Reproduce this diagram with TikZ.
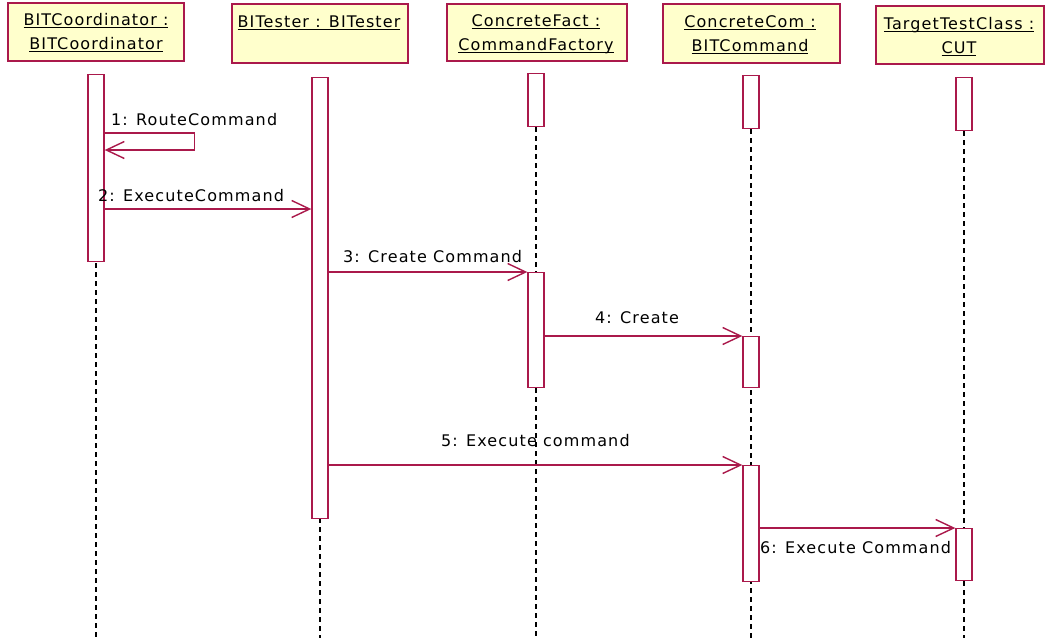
\documentclass[tikz,border=0pt]{standalone}
\usepackage{fontspec}
\newfontfamily\umlfont{DejaVu Sans}[LetterSpace=7]
\usetikzlibrary{arrows.meta,backgrounds}
\definecolor{umlred}{RGB}{170,25,75}
\definecolor{umlfill}{RGB}{255,255,204}
% underlined object name with a fixed underline depth
\newcommand\ulname[1]{\setbox0=\hbox{#1}\rlap{\rule[-2.8pt]{\wd0}{1.2pt}}\box0}

\tikzset{
  objbox/.style={draw=umlred, fill=umlfill, line width=1.5pt, inner sep=0pt, anchor=north west},
  actbar/.style={draw=umlred, fill=white, line width=1.4pt, minimum width=16pt, inner sep=0pt, anchor=north},
  lifeline/.style={black, line width=1.4pt, dash pattern=on 5pt off 4pt},
  msgline/.style={umlred, line width=1.4pt},
  msg/.style={msgline, -{Straight Barb[length=18pt,width=17pt,line width=1.4pt]}},
  txt/.style={font=\umlfont\fontsize{16pt}{19pt}\selectfont, text=black, inner sep=0pt},
}

\begin{document}
\begin{tikzpicture}[x=1pt,y=-1pt]
\useasboundingbox (0,0) rectangle (1046,638);

% object boxes
\node[objbox, minimum width=176pt, minimum height=58pt] (o1) at (7,2) {};
\node[objbox, minimum width=176pt, minimum height=59pt] (o2) at (231,3) {};
\node[objbox, minimum width=180pt, minimum height=57pt] (o3) at (446,3) {};
\node[objbox, minimum width=177pt, minimum height=59pt] (o4) at (662,3) {};
\node[objbox, minimum width=168pt, minimum height=58pt] (o5) at (875,5) {};

\node[txt, anchor=base] (n1a) at (96,25) {\ulname{BITCoordinator :}};
\node[txt, anchor=base] (n1b) at (96,49) {\ulname{BITCoordinator}};
\node[txt, anchor=base] (n2a) at (319,27) {\ulname{BITester : BITester}};
\node[txt, anchor=base] (n3a) at (536,26) {\ulname{ConcreteFact :}};
\node[txt, anchor=base] (n3b) at (536,50) {\ulname{CommandFactory}};
\node[txt, anchor=base] (n4a) at (750,27) {\ulname{ConcreteCom :}};
\node[txt, anchor=base] (n4b) at (750,51) {\ulname{BITCommand}};
\node[txt, anchor=base] (n5a) at (959,29) {\ulname{TargetTestClass :}};
\node[txt, anchor=base] (n5b) at (959,53) {\ulname{CUT}};

% activation bars
\node[actbar, minimum height=187pt] (b1)  at (96,74) {};
\node[actbar, minimum height=441pt] (b2)  at (320,77) {};
\node[actbar, minimum height=53pt]  (b3a) at (536,73) {};
\node[actbar, minimum height=115pt] (b3b) at (536,272) {};
\node[actbar, minimum height=53pt]  (b4a) at (751,75) {};
\node[actbar, minimum height=51pt]  (b4b) at (751,336) {};
\node[actbar, minimum height=116pt] (b4c) at (751,465) {};
\node[actbar, minimum height=53pt]  (b5a) at (964,77) {};
\node[actbar, minimum height=52pt]  (b5b) at (964,528) {};

% white page and lifelines, behind the bars
\begin{scope}[on background layer]
  \fill[white] (0,0) rectangle (1046,638);
  \draw[lifeline] (b1.north)  -- (b1.north |- 0,638);
  \draw[lifeline] (b2.north)  -- (b2.north |- 0,638);
  \draw[lifeline] (b3a.north) -- (b3a.north |- 0,638);
  \draw[lifeline] (b4a.north) -- (b4a.north |- 0,638);
  \draw[lifeline] (b5a.north) -- (b5a.north |- 0,638);
\end{scope}

% messages
\draw[msg] (b1.east |- 0,133) -- ++(90,0) -- ++(0,17) -- (b1.east |- 0,150);
\draw[msg] (b1.east |- 0,209) -- (b2.west |- 0,209);
\draw[msg] (b2.east |- 0,272) -- (b3b.north west);
\draw[msg] (b3b.east |- 0,336) -- (b4b.north west);
\draw[msg] (b2.east |- 0,465) -- (b4c.north west);
\draw[msg] (b4c.east |- 0,528) -- (b5b.north west);

% message labels
\node[txt, anchor=base west] (l1) at (111,125) {1: RouteCommand};
\node[txt, anchor=base west] (l2) at (98,201) {2: ExecuteCommand};
\node[txt, anchor=base west] (l3) at (343,262) {3: Create Command};
\node[txt, anchor=base west] (l4) at (595,323) {4: Create};
\node[txt, anchor=base west] (l5) at (441,446) {5: Execute command};
\node[txt, anchor=base west] (l6) at (760,553) {6: Execute Command};
\end{tikzpicture}
\end{document}
